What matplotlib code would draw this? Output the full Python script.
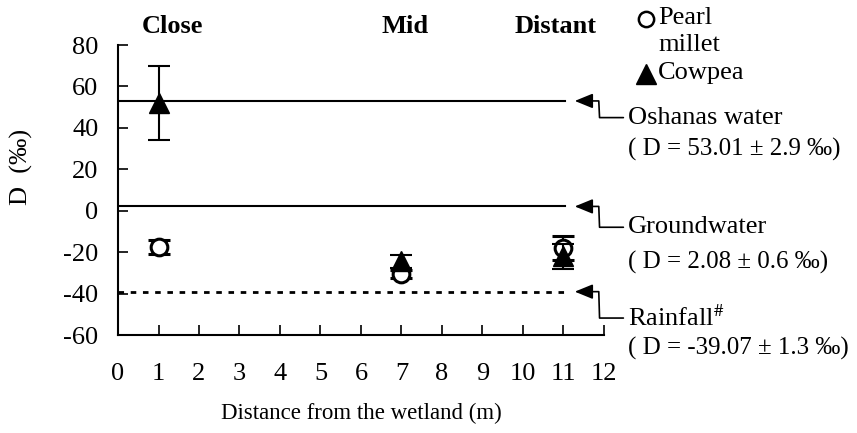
import matplotlib
matplotlib.use('Agg')
import matplotlib.pyplot as plt
from matplotlib.lines import Line2D

plt.rcParams['font.family'] = ['Liberation Serif', 'DejaVu Serif']
plt.rcParams['mathtext.fontset'] = 'stix'
plt.rcParams['axes.unicode_minus'] = False

# data
distance = [1, 7, 11]
millet = [-17.6, -30.5, -18.0]
millet_err = [3.5, 2.0, 6.0]
cowpea = [52.0, -24.5, -22.0]
cowpea_err = [17.7, 3.0, 6.0]

zones = ['Close', 'Mid', 'Distant']
zone_x = [1.35, 7.1, 10.8]

sources = ['Oshanas water', 'Groundwater', 'Rainfall$^{\\#}$']
source_d = [53.01, 2.08, -39.07]
source_sd = [2.9, 0.6, 1.3]
source_style = ['-', '-', (0, (2, 2.4))]
# text offsets (points) from the arrow tip: first line, second line
name_dy = [-12, -15, -19]
value_dy = [-35, -40, -41]

fig = plt.figure(figsize=(8.57, 4.33), dpi=100)
ax = fig.add_axes([0.1377, 0.2263, 0.567, 0.6697])

# reference lines
for d, ls in zip(source_d, source_style):
    lw = 2.0 if ls != '-' else 1.5
    ax.plot([0, 11.05], [d, d], color='black', lw=lw, linestyle=ls, zorder=1)

ax.errorbar(distance, millet, yerr=millet_err, fmt='o', mfc='white', mec='black',
            mew=2.2, ms=12, ecolor='black', elinewidth=1.5, capsize=8, capthick=1.5, zorder=3)
ax.errorbar(distance, cowpea, yerr=cowpea_err, fmt='^', color='black',
            ms=14, ecolor='black', elinewidth=1.5, capsize=8, capthick=1.5, zorder=4)

tip_x = 11.28
for name, d, sd, ndy, vdy in zip(sources, source_d, source_sd, name_dy, value_dy):
    ax.annotate(name, xy=(tip_x, d), xycoords='data',
                xytext=(38, ndy), textcoords='offset points',
                ha='left', va='center', fontsize=19, annotation_clip=False,
                arrowprops=dict(arrowstyle='-|>,head_length=1.1,head_width=0.45',
                                connectionstyle='arc,angleA=180,angleB=0,armA=28,armB=24,rad=0',
                                relpos=(0, 0.5), shrinkA=1, shrinkB=0,
                                color='black', lw=1.2, mutation_scale=10))
    ax.annotate('( D = %.2f \u00b1 %.1f \u2030)' % (d, sd), xy=(tip_x, d), xycoords='data',
                xytext=(38, vdy), textcoords='offset points',
                ha='left', va='center', fontsize=18, annotation_clip=False)

for z, zx in zip(zones, zone_x):
    ax.text(zx, 1.065, z, transform=ax.get_xaxis_transform(), ha='center', va='center',
            fontsize=19, fontweight='bold')

# legend drawn by hand
fig.add_artist(Line2D([646 / 857], [1 - 19 / 433], marker='o', ms=11, mfc='white',
                      mec='black', mew=1.8, transform=fig.transFigure))
fig.add_artist(Line2D([646 / 857], [1 - 74 / 433], marker='^', ms=14, color='black',
                      transform=fig.transFigure))
fig.text(658 / 857, 1 - 18 / 433, 'Pearl', fontsize=19, va='center', ha='left')
fig.text(658 / 857, 1 - 45 / 433, 'millet', fontsize=19, va='center', ha='left')
fig.text(658 / 857, 1 - 73 / 433, 'Cowpea', fontsize=19, va='center', ha='left')

ax.set_xlim(0, 12)
ax.set_ylim(-60, 80)
ax.set_xticks(range(0, 13))
ax.set_yticks(range(-60, 81, 20))
ax.spines['top'].set_visible(False)
ax.spines['right'].set_visible(False)
ax.spines['left'].set_linewidth(1.5)
ax.spines['bottom'].set_linewidth(1.5)
ax.tick_params(axis='both', direction='in', length=7, width=1.2, labelsize=19)
ax.tick_params(axis='y', pad=14)
ax.tick_params(axis='x', pad=20)

ax.set_xlabel('Distance from the wetland (m)', fontsize=16.5, labelpad=13)
ax.set_ylabel('D  (\u2030)', fontsize=19)
ax.yaxis.set_label_coords(-0.175, 0.58)

fig.savefig('out.png', dpi=100)
